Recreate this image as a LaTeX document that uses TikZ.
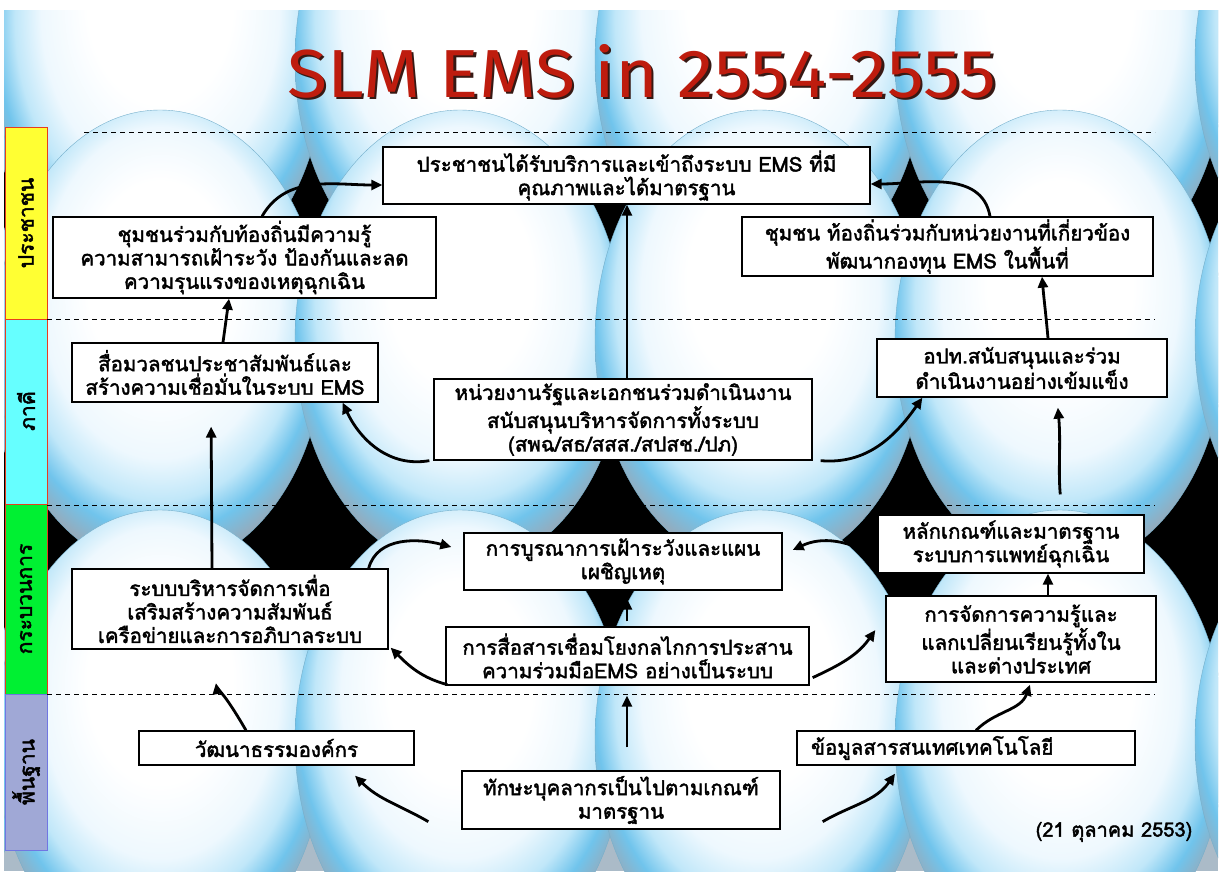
\documentclass[tikz,border=0pt]{standalone}
\usepackage{fontspec}
\newfontfamily\thai[Script=Thai, FakeBold=2]{Loma}
\newfontfamily\titlefont[FakeStretch=1.08]{Fira Sans}
\usetikzlibrary{arrows.meta}

\definecolor{titlered}{RGB}{190,28,14}
\definecolor{titleshade}{RGB}{55,25,20}
\definecolor{bandyellow}{RGB}{255,255,51}
\definecolor{bandcyan}{RGB}{102,255,255}
\definecolor{bandgreen}{RGB}{0,240,50}
\definecolor{bandlav}{RGB}{160,168,214}
\definecolor{bandred}{RGB}{232,60,30}
\definecolor{skyedge}{RGB}{112,196,236}
\definecolor{skymid}{RGB}{192,231,249}
\definecolor{skyin}{RGB}{238,248,254}
\definecolor{rimgrey}{RGB}{150,170,186}

% glossy bubble used for the backdrop
\pgfdeclareradialshading{bubble}{\pgfpoint{0bp}{8bp}}{%
  color(0bp)=(white); color(11bp)=(white); color(18bp)=(skyin);
  color(22bp)=(skymid); color(25bp)=(skyedge); color(28bp)=(rimgrey);
  color(50bp)=(rimgrey)}

\tikzset{
  box/.style={draw=black, line width=1.3pt, fill=white, align=center,
    inner sep=0pt, font=\thai\fontsize{20.5}{23.5}\selectfont},
  conn/.style={line width=2.8pt, black, -{Triangle[length=11pt,width=10pt]}},
  bandlabel/.style={rotate=90, font=\thai\fontsize{21}{21}\selectfont},
  divider/.style={line width=0.9pt, dash pattern=on 5pt off 4pt},
}

\begin{document}
\begin{tikzpicture}[x=1pt,y=1pt]
\useasboundingbox (0,0) rectangle (1224,-871);

% backdrop
\fill[white] (0,0) rectangle (1224,-871);
\begin{scope}
  \clip (4,-10) rectangle (1218,-871);
  \fill[black] (4,-10) rectangle (1218,-700);
  \fill[rimgrey!80!white] (4,-700) rectangle (1218,-871);
  \foreach \cy in {-60,-340,-740}{
    \foreach \cx in {-140,160,460,760,1060,1360}{
      \shade[shading=bubble] (\cx,\cy) ellipse [x radius=165, y radius=230];
      \draw[skyedge!70!gray, line width=0.4pt] (\cx,\cy) ellipse [x radius=165, y radius=230];
    }
  }
\end{scope}

% level bands
\draw[bandred, line width=1pt, fill=bandyellow] (5,-127) rectangle (47,-319);
\draw[bandred, line width=1pt, fill=bandcyan] (5,-319) rectangle (47,-504);
\draw[bandred, line width=1pt, fill=bandgreen] (5,-504) rectangle (47,-694);
\draw[bandlav!70!blue, line width=1pt, fill=bandlav] (5,-694) rectangle (47,-850);
\node[bandlabel] (lv1) at (26,-223) {ประชาชน};
\node[bandlabel] (lv2) at (26,-411) {ภาคี};
\node[bandlabel] (lv3) at (26,-599) {กระบวนการ};
\node[bandlabel] (lv4) at (26,-772) {พื้นฐาน};

% level dividers
\draw[divider] (84,-132) -- (1155,-132);
\draw[divider] (47,-319) -- (1155,-319);
\draw[divider] (47,-505) -- (1155,-505);
\draw[divider] (47,-694) -- (1155,-694);

% title with its drop shadow
\node[font=\titlefont\fontsize{68}{68}\selectfont, text=titlered, anchor=base] (title) at (642,-97)
  {\makebox[0pt][l]{\raisebox{-2.5pt}{\hspace{2.5pt}\textcolor{titleshade}{SLM EMS in 2554-2555}}}SLM EMS in 2554-2555};

% people level
\node[box, minimum width=487pt, minimum height=57pt] (p1) at (626.5,-175.5)
  {ประชาชนได้รับบริการและเข้าถึงระบบ EMS ที่มี\\คุณภาพและได้มาตรฐาน};
\node[box, minimum width=383pt, minimum height=81pt] (c1) at (244.5,-257.5)
  {ชุมชนร่วมกับท้องถิ่นมีความรู้\\ความสามารถเฝ้าระวัง ป้องกันและลด\\ความรุนแรงของเหตุฉุกเฉิน};
\node[box, minimum width=411pt, minimum height=59pt] (c2) at (947.5,-246.5)
  {ชุมชน ท้องถิ่นร่วมกับหน่วยงานที่เกี่ยวข้อง\\พัฒนากองทุน EMS ในพื้นที่};

% partner level
\node[box, minimum width=306pt, minimum height=59pt] (m1) at (225,-372.5)
  {สื่อมวลชนประชาสัมพันธ์และ\\สร้างความเชื่อมั่นในระบบ EMS};
\node[box, minimum width=378pt, minimum height=81pt] (g1) at (623,-419.5)
  {หน่วยงานรัฐและเอกชนร่วมดำเนินงาน\\สนับสนุนบริหารจัดการทั้งระบบ\\(สพฉ/สธ/สสส./สปสช./ปภ)};
\node[box, minimum width=290pt, minimum height=58pt] (l1) at (1022,-368)
  {อปท.สนับสนุนและร่วม\\ดำเนินงานอย่างเข้มแข็ง};

% process level
\node[box, minimum width=318pt, minimum height=57pt] (g2) at (623,-561.5)
  {การบูรณาการเฝ้าระวังและแผน\\เผชิญเหตุ};
\node[box, minimum width=363pt, minimum height=58pt] (g3) at (627.5,-656)
  {การสื่อสารเชื่อมโยงกลไกการประสาน\\ความร่วมมือEMS อย่างเป็นระบบ};
\node[box, minimum width=316pt, minimum height=80pt] (g4) at (230,-609)
  {ระบบบริหารจัดการเพื่อ\\เสริมสร้างความสัมพันธ์\\เครือข่ายและการอภิบาลระบบ};
\node[box, minimum width=266pt, minimum height=58pt] (g5) at (1011,-544)
  {หลักเกณฑ์และมาตรฐาน\\ระบบการแพทย์ฉุกเฉิน};
\node[box, minimum width=270pt, minimum height=86pt] (g6) at (1021,-639)
  {การจัดการความรู้และ\\แลกเปลี่ยนเรียนรู้ทั้งใน\\และต่างประเทศ};

% foundation level
\node[box, minimum width=275pt, minimum height=34pt] (f1) at (276.5,-748)
  {วัฒนาธรรมองค์กร};
\node[box, minimum width=338pt, minimum height=34pt, align=left, text width=310pt] (f2) at (966,-748)
  {ข้อมูลสารสนเทศเทคโนโลยี};
\node[box, minimum width=318pt, minimum height=58pt] (f3) at (621,-800)
  {ทักษะบุคลากรเป็นไปตามเกณฑ์\\มาตรฐาน};

\node[font=\thai\fontsize{20}{22}\selectfont] (date) at (1114,-832) {(21 ตุลาคม 2553)};

% connectors
\draw[conn] ([xshift=17.5pt]c1.north) to[out=60,in=180] ([yshift=-9.5pt]p1.west);
\draw[conn] ([xshift=-2pt]m1.north) -- ([xshift=-15.5pt]c1.south);
\draw[conn] ([xshift=-4pt]g1.south west) to[out=190,in=-65] ([xshift=-36pt]m1.south east);
\draw[conn] ([xshift=4pt]g1.north) -- ([xshift=0.5pt]p1.south);
\draw[conn] ([xshift=8pt]g1.south east) to[out=-5,in=235] ([xshift=46pt]l1.south west);
\draw[conn] ([xshift=26pt]l1.north) to[out=95,in=-85] ([xshift=94.5pt]c2.south);
\draw[conn] ([xshift=42.5pt]c2.north) to[out=100,in=0] ([yshift=-8.5pt]p1.east);
\draw[conn, shorten >=24pt] ([xshift=-18pt]g4.north) -- ([xshift=-14pt]m1.south);
\draw[conn] ([xshift=-20pt]g4.north east) to[out=75,in=165] ([xshift=-12pt,yshift=14.5pt]g2.west);
\draw[conn] ([xshift=2pt,yshift=1pt]g3.south west) to[out=165,in=-45] ([xshift=2pt,yshift=2pt]g4.south east);
\draw[conn, shorten <=5pt, shorten >=8pt] ([xshift=-0.5pt]g3.north) -- ([xshift=4pt]g2.south);
\draw[conn] ([xshift=3pt,yshift=8pt]g3.south east) to[out=25,in=235] ([xshift=-10pt,yshift=9pt]g6.west);
\draw[conn] ([xshift=27pt]g6.north) -- ([xshift=37pt]g5.south);
\draw[conn] ([yshift=-13pt]g5.west) to[out=150,in=25] ([xshift=10pt,yshift=11.5pt]g2.east);
\draw[conn, shorten <=20pt, shorten >=10pt] ([xshift=51pt]g5.north) to[out=95,in=-85] ([xshift=35pt]l1.south);
\draw[conn, shorten >=34pt] ([xshift=-30.5pt]f1.north) to[out=120,in=-80] ([xshift=-20pt]g4.south);
\draw[conn] ([xshift=-33pt,yshift=8pt]f3.south west) to[out=150,in=-45] ([xshift=78.5pt,yshift=-10pt]f1.south);
\draw[conn, shorten <=23pt, shorten >=10pt] ([xshift=6pt]f3.north) -- ([xshift=-0.5pt]g3.south);
\draw[conn] ([xshift=42pt,yshift=8pt]f3.south east) to[out=30,in=235] ([xshift=-71pt,yshift=-8pt]f2.south);
\draw[conn] ([xshift=10pt]f2.north) to[out=45,in=-110] ([xshift=9pt,yshift=-2pt]g6.south);
\end{tikzpicture}
\end{document}
